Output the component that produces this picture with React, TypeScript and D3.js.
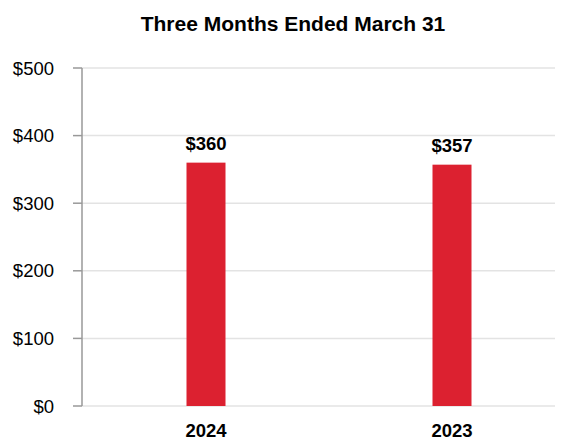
import React from "react";
import * as d3 from "d3";

const categories = ["2024", "2023"];
const values = [360, 357];
const yTicks = [0, 100, 200, 300, 400, 500];

export default function App() {
  const W = 567, H = 441;
  const x0 = 82, x1 = 555;
  const y = d3.scaleLinear().domain([0, 500]).range([406, 68]);
  const x = d3.scaleBand().domain(categories).range([83, 575]);
  const bw = 39;
  const font = "Liberation Sans, Arial, Helvetica, sans-serif";
  return (
    <svg width={W} height={H} style={{ position: "absolute", left: 0, top: 0 }} fontFamily={font}>
      <rect width={W} height={H} fill="#fff" />
      <text x={293} y={31} textAnchor="middle" fontSize={21} fontWeight="bold" fill="#000">
        Three Months Ended March 31
      </text>
      {yTicks.map((t) => (
        <g key={t}>
          <line x1={x0} x2={x1} y1={y(t)} y2={y(t)} stroke="#e3e3e3" strokeWidth={1.5} />
          <line x1={73} x2={x0} y1={y(t)} y2={y(t)} stroke="#999" strokeWidth={1.5} />
          <text x={54} y={y(t) + 6.5} textAnchor="end" fontSize={18.5} fill="#000">
            ${t}
          </text>
        </g>
      ))}
      <line x1={x0} x2={x0} y1={y(500)} y2={y(0)} stroke="#999" strokeWidth={1.5} />
      {categories.map((c, i) => {
        const cx = (x(c) as number) + x.bandwidth() / 2;
        return (
          <g key={c}>
            <rect x={cx - bw / 2} y={y(values[i])} width={bw} height={y(0) - y(values[i])} fill="#dc2130" />
            <text x={cx} y={y(values[i]) - 13} textAnchor="middle" fontSize={18.5} fontWeight="bold" fill="#000">
              ${values[i]}
            </text>
            <text x={cx} y={437} textAnchor="middle" fontSize={18.5} fontWeight="bold" fill="#000">
              {c}
            </text>
          </g>
        );
      })}
    </svg>
  );
}
